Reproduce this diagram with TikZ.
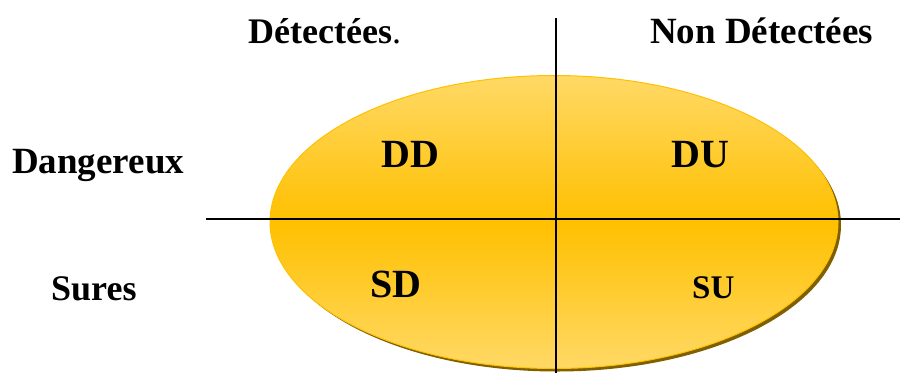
\documentclass[tikz,border=0pt]{standalone}
\usepackage{fontspec}
\setmainfont{Liberation Serif}
\usetikzlibrary{shapes.geometric}
\definecolor{goldlight}{HTML}{FFD966}
\definecolor{golddeep}{HTML}{FFC000}
\definecolor{goldshadow}{HTML}{7F6000}
\tikzset{
  lbl/.style={anchor=base west, inner sep=0pt, font=\bfseries\fontsize{36}{40}\selectfont},
  cell/.style={anchor=base west, inner sep=0pt, font=\bfseries\fontsize{40}{44}\selectfont},
  axis/.style={line width=1.6pt, black},
}
\begin{document}
\begin{tikzpicture}[x=1pt, y=-1pt]
  \useasboundingbox (0,0) rectangle (900,373);

  % drop shadow and the shaded oval
  \node[ellipse, minimum width=568pt, minimum height=293pt, inner sep=0pt,
        fill=goldshadow] (shadow) at (557,225) {};
  \node[ellipse, minimum width=568pt, minimum height=293pt, inner sep=0pt,
        top color=goldlight, bottom color=goldlight, middle color=golddeep,
        draw=golddeep, line width=1pt] (oval) at (554,222) {};

  % axes
  \coordinate (vtop) at (556,18);
  \coordinate (vbot) at (556,373);
  \coordinate (hleft) at (206,219);
  \coordinate (hright) at (900,219);
  \draw[axis] (vtop) -- (vbot);
  \draw[axis] (hleft) -- (hright);

  % column and row headings
  \node[lbl] (det) at (248,43) {Détectées\mdseries.};
  \node[lbl, font=\bfseries\fontsize{37}{40}\selectfont] (nondet) at (650,43) {Non Détectées};
  \node[lbl, font=\bfseries\fontsize{37}{40}\selectfont] (dang) at (12,173) {Dangereux};
  \node[lbl] (sures) at (51,300) {Sures};

  % quadrant labels
  \node[cell] (dd) at (381,167) {DD};
  \node[cell] (du) at (671,167) {DU};
  \node[cell] (sd) at (370,297) {SD};
  \node[cell, font=\bfseries\fontsize{33}{36}\selectfont] (su) at (692,298) {SU};
\end{tikzpicture}
\end{document}
